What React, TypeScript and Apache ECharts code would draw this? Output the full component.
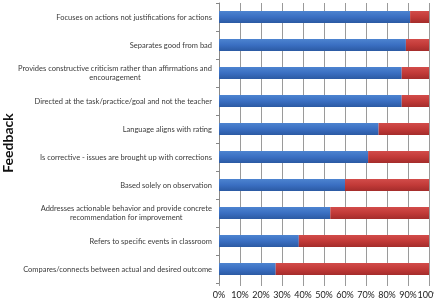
import React, { useEffect, useRef } from "react";
import * as echarts from "echarts";

// Feedback criteria, top to bottom
const categories: string[] = [
  "Focuses on actions not justifications for actions",
  "Separates good from bad",
  "Provides constructive criticism rather than affirmations and\nencouragement",
  "Directed at the task/practice/goal and not the teacher",
  "Language aligns with rating",
  "Is corrective - issues are brought up with corrections",
  "Based solely on observation",
  "Addresses actionable behavior and provide concrete\nrecommendation for improvement",
  "Refers to specific events in classroom",
  "Compares/connects between actual and desired outcome",
];

// Share of feedback meeting each criterion (%)
const present: number[] = [91, 89, 87, 87, 76, 71, 60, 53, 38, 27];
// Remaining share (%)
const absent: number[] = [9, 11, 13, 13, 24, 29, 40, 47, 62, 73];

const xTicks: string[] = ["0%", "10%", "20%", "30%", "40%", "50%", "60%", "70%", "80%", "90%", "100%"];

const FONT = "Lato, 'Open Sans', sans-serif";

export default function App() {
  const ref = useRef<HTMLDivElement>(null);

  useEffect(() => {
    if (!ref.current) return;
    const chart = echarts.init(ref.current, undefined, { renderer: "svg" });

    const blue = new echarts.graphic.LinearGradient(0, 0, 0, 1, [
      { offset: 0, color: "#4d84d0" },
      { offset: 0.5, color: "#3a6fc2" },
      { offset: 1, color: "#2b5aa3" },
    ]);
    const red = new echarts.graphic.LinearGradient(0, 0, 0, 1, [
      { offset: 0, color: "#d24c4a" },
      { offset: 0.5, color: "#c23a38" },
      { offset: 1, color: "#a42c2b" },
    ]);

    chart.setOption({
      animation: false,
      grid: {
        left: 219,
        right: 5,
        top: 3,
        bottom: 21,
        containLabel: false,
        outerBoundsMode: "none",
      },
      xAxis: {
        type: "value",
        min: 0,
        max: 100,
        interval: 10,
        axisLine: { show: false },
        axisTick: { show: true, length: 3, lineStyle: { color: "#9a9a9a" } },
        splitLine: { show: true, lineStyle: { color: "#9a9a9a", width: 1 } },
        axisLabel: {
          margin: 7,
          fontSize: 9,
          fontFamily: FONT,
          color: "#222",
          showMinLabel: true,
          showMaxLabel: true,
          hideOverlap: false,
          formatter: (v: number) => xTicks[Math.round(v / 10)],
        },
      },
      yAxis: {
        type: "category",
        inverse: true,
        data: categories,
        name: "Feedback",
        nameLocation: "middle",
        nameGap: 195,
        nameRotate: 90,
        nameTextStyle: { fontSize: 14, fontWeight: "bold", fontFamily: FONT, color: "#111" },
        axisLine: { show: true, lineStyle: { color: "#888" } },
        axisTick: { show: true, length: 3, alignWithLabel: false, lineStyle: { color: "#888" } },
        axisLabel: {
          margin: 7,
          fontSize: 7.5,
          fontFamily: FONT,
          color: "#3a3a3a",
          lineHeight: 9,
          formatter: (v: string) =>
            v
              .split("\n")
              .map((line) => `{c|${line}}`)
              .join("\n"),
          rich: { c: { align: "center", fontSize: 7.5, fontFamily: FONT, color: "#3a3a3a", lineHeight: 9 } },
        },
      },
      series: [
        {
          type: "bar",
          stack: "total",
          data: present,
          barWidth: 12,
          itemStyle: { color: blue },
        },
        {
          type: "bar",
          stack: "total",
          data: absent,
          barWidth: 12,
          itemStyle: { color: red },
        },
      ],
    });

    return () => chart.dispose();
  }, []);

  return (
    <div
      ref={ref}
      style={{ position: "fixed", left: 0, top: 0, width: 434, height: 304, overflow: "hidden" }}
    />
  );
}
